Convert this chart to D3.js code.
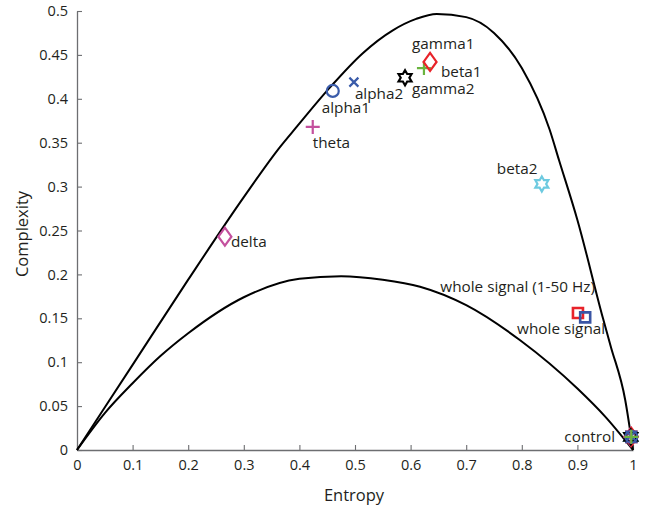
<!DOCTYPE html>
<html>
<head>
<meta charset="utf-8">
<script src="https://cdn.jsdelivr.net/npm/d3@7"></script>
<style>
  html, body { margin: 0; padding: 0; background: #fff; }
  svg { display: block; font-family: "Open Sans", sans-serif; }
</style>
</head>
<body>
<svg id="chart" width="648" height="509"></svg>
<script>
// Axis ticks
const entropyTicks = [0, 0.1, 0.2, 0.3, 0.4, 0.5, 0.6, 0.7, 0.8, 0.9, 1];
const complexityTicks = [0, 0.05, 0.1, 0.15, 0.2, 0.25, 0.3, 0.35, 0.4, 0.45, 0.5];

// Upper bound of the complexity-entropy plane
const maxCurveH = [0, 0.1, 0.2, 0.3, 0.365, 0.395, 0.455, 0.514, 0.568, 0.61, 0.647, 0.7, 0.75, 0.8, 0.85, 0.867, 0.9, 0.946, 0.96, 0.986, 1];
const maxCurveC = [0, 0.097, 0.194, 0.288, 0.345, 0.368, 0.413, 0.452, 0.478, 0.491, 0.4966, 0.493, 0.475, 0.435, 0.365, 0.33, 0.262, 0.15, 0.118, 0.057, 0];

// Lower bound of the complexity-entropy plane
const minCurveH = [0, 0.05, 0.1, 0.15, 0.2, 0.3, 0.4, 0.475, 0.55, 0.617, 0.7, 0.797, 0.9, 0.95, 1];
const minCurveC = [0, 0.042, 0.076, 0.107, 0.133, 0.174, 0.195, 0.198, 0.194, 0.186, 0.165, 0.125, 0.07, 0.038, 0];

// Frequency bands
const bands = ["delta", "theta", "alpha1", "alpha2", "beta1", "beta2", "gamma1", "gamma2"];
const bandEntropy = [0.266, 0.424, 0.460, 0.498, 0.624, 0.836, 0.635, 0.590];
const bandComplexity = [0.243, 0.368, 0.409, 0.419, 0.435, 0.303, 0.442, 0.424];

// Whole-signal measurements
const wholeSeries = ["whole signal (1-50 Hz)", "whole signal"];
const wholeEntropy = [0.901, 0.914];
const wholeComplexity = [0.156, 0.151];

// Control signal, one point per series (all overlapping near H = 1)
const controlSeries = ["whole signal (1-50 Hz)", "whole signal", "beta2", "delta", "gamma1", "gamma2", "alpha1", "alpha2", "theta", "beta1"];
const controlEntropy = [0.997, 0.997, 0.996, 0.996, 0.997, 0.996, 0.997, 0.996, 0.996, 0.997];
const controlComplexity = [0.015, 0.015, 0.015, 0.015, 0.015, 0.015, 0.015, 0.016, 0.015, 0.015];
const controlLabel = "control";

// ---- drawing ----
const svg = d3.select("#chart");
const x = d3.scaleLinear().domain([0, 1]).range([77, 633]);
const y = d3.scaleLinear().domain([0, 0.5]).range([450, 11]);

const inkColor = "#231f20";
const axisColor = "#6d6e71";

// marker styles per series
const markerStyle = {
  "delta":   { shape: "diamond",  color: "#c4509e" },
  "theta":   { shape: "plus",     color: "#c4509e" },
  "alpha1":  { shape: "circle",   color: "#3a5ba9" },
  "alpha2":  { shape: "cross",    color: "#3a5ba9" },
  "beta1":   { shape: "plus",     color: "#6ab43f" },
  "beta2":   { shape: "hexagram", color: "#6dcae0" },
  "gamma1":  { shape: "diamond",  color: "#e8232a" },
  "gamma2":  { shape: "hexagram", color: "#000000" },
  "whole signal (1-50 Hz)": { shape: "square", color: "#e8232a" },
  "whole signal":           { shape: "square", color: "#3a55a4" }
};

function markerPath(shape) {
  const p = d3.path();
  if (shape === "circle") {
    p.arc(0, 0, 6, 0, 2 * Math.PI);
  } else if (shape === "diamond") {
    p.moveTo(0, -9); p.lineTo(6.5, 0); p.lineTo(0, 9); p.lineTo(-6.5, 0); p.closePath();
  } else if (shape === "plus") {
    p.moveTo(-7, 0); p.lineTo(7, 0); p.moveTo(0, -7); p.lineTo(0, 7);
  } else if (shape === "cross") {
    p.moveTo(-4.5, -4.5); p.lineTo(4.5, 4.5); p.moveTo(-4.5, 4.5); p.lineTo(4.5, -4.5);
  } else if (shape === "square") {
    p.rect(-5, -5, 10, 10);
  } else if (shape === "hexagram") {
    const R = 7.5, r = R / Math.sqrt(3);
    for (let k = 0; k < 12; k++) {
      const a = -Math.PI / 2 + k * Math.PI / 6;
      const rad = k % 2 === 0 ? R : r;
      const px = rad * Math.cos(a), py = rad * Math.sin(a);
      if (k === 0) p.moveTo(px, py); else p.lineTo(px, py);
    }
    p.closePath();
  }
  return p.toString();
}

function drawMarker(g, name, h, c) {
  const st = markerStyle[name];
  g.append("path")
    .attr("d", markerPath(st.shape))
    .attr("transform", `translate(${x(h)},${y(c)})`)
    .attr("fill", "none")
    .attr("stroke", st.color)
    .attr("stroke-width", st.shape === "square" ? 2.6 : 2.2)
    .attr("stroke-linejoin", "miter");
}

// axes
const xAxis = d3.axisBottom(x).tickValues(entropyTicks).tickFormat(d3.format("~g"))
  .tickSizeInner(-5).tickSizeOuter(0).tickPadding(10);
const yAxis = d3.axisLeft(y).tickValues(complexityTicks).tickFormat(d3.format("~g"))
  .tickSizeInner(-5).tickSizeOuter(0).tickPadding(9);

function styleAxis(g) {
  g.select(".domain").attr("stroke", axisColor).attr("stroke-width", 1.3);
  g.selectAll(".tick line").attr("stroke", axisColor).attr("stroke-width", 1.1);
  g.selectAll(".tick text").attr("fill", inkColor).style("font-size", "14.5px")
    .style("font-family", "'Open Sans', sans-serif");
}

svg.append("g").attr("transform", "translate(0,450)").call(xAxis).call(styleAxis);
svg.append("g").attr("transform", "translate(77,0)").call(yAxis).call(styleAxis);

// axis titles
svg.append("text").attr("x", 354).attr("y", 501).attr("text-anchor", "middle")
  .attr("fill", inkColor).style("font-size", "16.5px").text("Entropy");
svg.append("text").attr("transform", "translate(28,234) rotate(-90)").attr("text-anchor", "middle")
  .attr("fill", inkColor).style("font-size", "16.5px").text("Complexity");

// bounding curves
const curve = d3.line().x(d => x(d[0])).y(d => y(d[1])).curve(d3.curveMonotoneX);
svg.append("path").datum(d3.zip(maxCurveH, maxCurveC)).attr("d", curve)
  .attr("fill", "none").attr("stroke", "#000").attr("stroke-width", 2);
svg.append("path").datum(d3.zip(minCurveH, minCurveC)).attr("d", curve)
  .attr("fill", "none").attr("stroke", "#000").attr("stroke-width", 2);

// markers
const marks = svg.append("g");
controlSeries.forEach((name, i) => drawMarker(marks, name, controlEntropy[i], controlComplexity[i]));
wholeSeries.forEach((name, i) => drawMarker(marks, name, wholeEntropy[i], wholeComplexity[i]));
bands.forEach((name, i) => drawMarker(marks, name, bandEntropy[i], bandComplexity[i]));

// point labels (offsets in px from the marker)
const labelOffset = {
  "delta":  [6, 10, "start"],
  "theta":  [0, 21, "start"],
  "alpha1": [-11, 22, "start"],
  "alpha2": [1, 17, "start"],
  "beta1":  [17, 9, "start"],
  "beta2":  [-45, -10, "start"],
  "gamma1": [-18, -13, "start"],
  "gamma2": [7, 16, "start"],
  "whole signal (1-50 Hz)": [17, -21, "end"],
  "whole signal": [20, 17, "end"]
};
const labels = svg.append("g").attr("fill", inkColor).style("font-size", "15.3px");
function addLabel(text, h, c, off) {
  labels.append("text")
    .attr("x", x(h) + off[0]).attr("y", y(c) + off[1])
    .attr("text-anchor", off[2]).text(text);
}
bands.forEach((name, i) => addLabel(name, bandEntropy[i], bandComplexity[i], labelOffset[name]));
wholeSeries.forEach((name, i) => addLabel(name, wholeEntropy[i], wholeComplexity[i], labelOffset[name]));
addLabel(controlLabel, d3.mean(controlEntropy), d3.mean(controlComplexity), [-16, 5, "end"]);
</script>
</body>
</html>
